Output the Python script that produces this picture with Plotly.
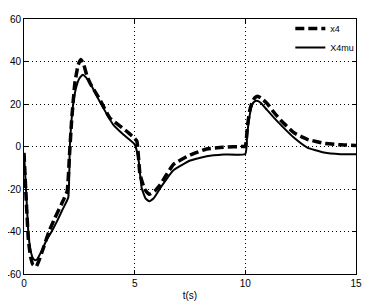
import plotly.graph_objects as go

# x4 (dashed) series
t_x4 = [0, 0.1, 0.2, 0.3, 0.4, 0.55, 0.7, 0.9, 1.13, 1.4, 1.7, 1.95, 2.05, 2.15, 2.3, 2.45, 2.57, 2.7, 2.85, 3.0,
        3.43, 3.88, 4.34, 4.71, 5.0, 5.1, 5.24, 5.45, 5.65, 5.9, 6.15, 6.75, 7.5, 8.25, 9.0, 9.9,
        10.0, 10.1, 10.2, 10.3, 10.42, 10.56, 10.75, 10.98, 11.3, 11.59, 12.19, 12.8, 13.55, 14.3, 15.0]
v_x4 = [-3, -25, -44, -52, -55.5, -56.5, -53, -47, -40, -33.5, -27, -21, -5, 12, 30, 38.5, 41, 38.5, 33, 29.5,
        22, 13.4, 9.6, 6.5, 3.8, 2.5, -13, -20, -22.5, -21, -18, -8.5, -4, -1.2, -0.3, 0,
        0, 10, 17, 20.5, 22.8, 23.7, 22.5, 20.3, 16, 12.5, 6.5, 3.4, 1.5, 0.8, 0.5]

# X4mu (solid) series
t_mu = [0, 0.1, 0.2, 0.3, 0.4, 0.5, 0.6, 0.8, 1.0, 1.25, 1.5, 1.75, 2.0, 2.07, 2.2, 2.35, 2.5, 2.65, 2.8, 3.0,
        3.43, 4.03, 4.5, 5.0, 5.17, 5.32, 5.5, 5.66, 5.85, 6.15, 6.75, 7.51, 8.26, 9.02, 10.0,
        10.08, 10.15, 10.3, 10.42, 10.53, 10.7, 10.98, 11.3, 11.59, 12.19, 12.8, 13.55, 14.3, 15.0]
v_mu = [-3, -22, -41, -49, -52.5, -53.5, -53, -49, -44.5, -40, -35, -29.5, -24, 0, 18, 27.5, 32, 33.8, 32.5, 29.5,
        21, 10.3, 5.5, 1, -5.9, -19.7, -24.5, -25.8, -24.5, -19.7, -11.2, -6.6, -4.6, -3.8, -3.5,
        5, 11.7, 19.5, 21.2, 21.5, 20.5, 17.2, 13.5, 10.3, 4.2, -0.5, -2.8, -3.6, -3.7]

x_ticks = [0, 5, 10, 15]
y_ticks = [-60, -40, -20, 0, 20, 40, 60]

FONT = "Liberation Sans, Arial"

fig = go.Figure()
fig.add_trace(go.Scatter(x=t_x4, y=v_x4, mode="lines", name="x4",
                         line=dict(color="black", width=3.5, dash="9px,4px", shape="spline", smoothing=0.4)))
fig.add_trace(go.Scatter(x=t_mu, y=v_mu, mode="lines", name="X4mu",
                         line=dict(color="black", width=2, shape="spline", smoothing=0.4)))

axis_common = dict(showline=True, linecolor="black", linewidth=1, mirror="ticks",
                   ticks="inside", ticklen=4, tickcolor="black", automargin=False,
                   showgrid=True, gridcolor="black", gridwidth=1, griddash="1px,3px",
                   zeroline=False, tickfont=dict(family=FONT, size=10, color="black"))

fig.update_xaxes(range=[0, 15], tickvals=x_ticks, ticktext=[str(v) for v in x_ticks],
                 title=dict(text="t(s)", font=dict(family=FONT, size=10, color="black"), standoff=3),
                 **axis_common)
fig.update_yaxes(range=[-60, 60], tickvals=y_ticks, ticktext=[str(v) for v in y_ticks], **axis_common)

# page body has an 8px default margin, so the figure is sized to fit inside the 370x306 window
fig.update_layout(width=362, height=298, margin=dict(l=16, r=14, t=6, b=32),
                  plot_bgcolor="white", paper_bgcolor="white",
                  legend=dict(x=1.01, y=1.02, xanchor="right", yanchor="top", bgcolor="rgba(255,255,255,0)",
                              font=dict(family=FONT, size=9, color="black"),
                              tracegroupgap=0, itemwidth=30),
                  showlegend=True)

fig.write_html("out.html")
